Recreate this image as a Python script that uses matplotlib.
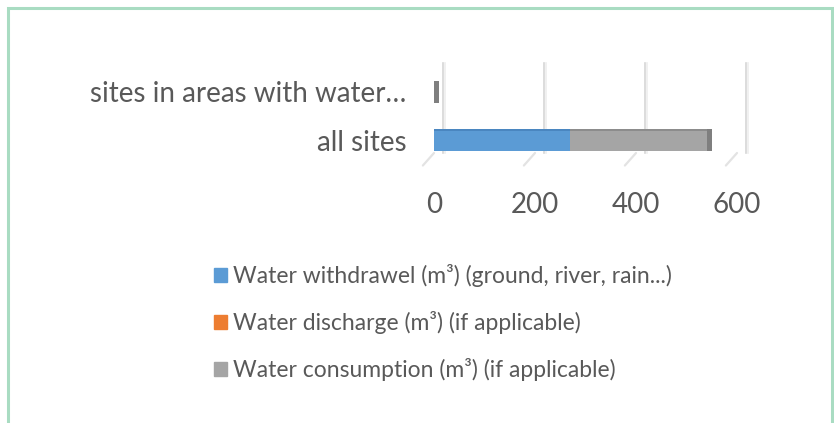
import matplotlib
matplotlib.use("Agg")
import matplotlib.pyplot as plt
import matplotlib.patches as mpatches
import matplotlib.transforms as mtransforms
import numpy as np

categories = ["all sites", "sites in areas with water\u2026"]
series_names = [
    "Water withdrawel (m\u00b3) (ground, river, rain...)",
    "Water discharge (m\u00b3) (if applicable)",
    "Water consumption (m\u00b3) (if applicable)",
]
withdrawal = [270, 0]
discharge = [0, 0]
consumption = [270, 0]
xticks = [0, 200, 400, 600]

colors = ["#5b9bd5", "#ed7d31", "#a5a5a5"]
side_color = "#7f7f7f"
text_color = "#595959"
font = ["Lato", "DejaVu Sans"]
plt.rcParams["font.family"] = font

W, H = 834, 423
fig = plt.figure(figsize=(W / 100, H / 100), dpi=100)
fig.patch.set_facecolor("white")

# figure border
border = mpatches.Rectangle((7.5 / W, -0.05), (832 - 7.5) / W, (H - 8.5) / H + 0.05,
                            transform=fig.transFigure, fill=False,
                            edgecolor="#a9dcc2", linewidth=2.2, zorder=0)
fig.patches.append(border)

left_px, right_px = 434, 737
top_px, bot_px = 63, 153
ax = fig.add_axes([left_px / W, 1 - bot_px / H, (right_px - left_px) / W, (bot_px - top_px) / H])
ax.set_xlim(0, 600)
ax.set_ylim(-0.27, 1.6)
ax.set_facecolor("none")
for s in ax.spines.values():
    s.set_visible(False)

# 3D-like gridlines (shifted back) and floor diagonal marks
xtr = ax.get_xaxis_transform()
off = mtransforms.ScaledTranslation(9 / 100, 0, fig.dpi_scale_trans)
off2 = mtransforms.ScaledTranslation(11 / 100, 0, fig.dpi_scale_trans)
for xt in xticks:
    ax.plot([xt, xt], [0, 1], color="#ededed", lw=1.2, zorder=0,
            transform=xtr + off2, clip_on=False)
    ax.plot([xt, xt], [0, 1], color="#d6d6d6", lw=1.2, zorder=0,
            transform=xtr + off, clip_on=False)
    ax.annotate("", xy=(xt, 0), xycoords=xtr, xytext=(-8, -9),
                textcoords="offset points",
                arrowprops=dict(arrowstyle="-", color="#e3e3e3", lw=1.6,
                                shrinkA=0, shrinkB=0))

y = np.arange(len(categories))
h = 0.46
left = np.zeros(len(categories))
for vals, c in zip([withdrawal, discharge, consumption], colors):
    ax.barh(y, vals, left=left, height=h, color=c, zorder=3)
    left = left + np.array(vals)
# side face and top face for 3D look
ax.barh(y, [10] * len(y), left=left, height=h, color=side_color, zorder=3)
ax.barh(y + h / 2 - 0.02, withdrawal, height=0.05, color="#4a86c0", zorder=4)
ax.barh(y + h / 2 - 0.02, consumption, left=np.array(withdrawal) + np.array(discharge),
        height=0.05, color="#8c8c8c", zorder=4)

ax.set_yticks(y)
ax.set_yticklabels(categories, fontsize=20, color=text_color)
ax.set_xticks(xticks)
ax.set_xticklabels([str(v) for v in xticks], fontsize=20, color=text_color)
ax.tick_params(axis="x", length=0, pad=28)
ax.tick_params(axis="y", length=0, pad=20)

handles = [mpatches.Patch(color=c) for c in colors]
leg = fig.legend(handles, series_names, loc="upper left",
                 bbox_to_anchor=(196 / W, 1 - 246 / H), frameon=False,
                 fontsize=16.5, labelcolor=text_color, handlelength=0.55,
                 handleheight=0.55, handletextpad=0.25, labelspacing=1.05,
                 borderpad=0.3)

fig.savefig("out.png", dpi=100, facecolor="white")
